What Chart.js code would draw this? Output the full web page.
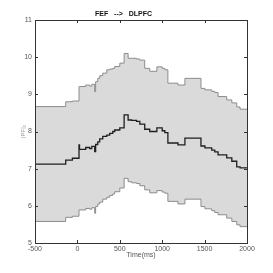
<!DOCTYPE html>
<html>
<head>
<meta charset="utf-8">
<script src="https://cdn.jsdelivr.net/npm/chart.js@4"></script>
<style>
  html, body { margin: 0; padding: 0; background: #fff; }
  #wrap { width: 273px; height: 273px; }
</style>
</head>
<body>
<div id="wrap"><canvas id="fefChart"></canvas></div>
<script>
// time axis (ms) where the stepped curves change value
const times = [-500, -138, -59, 19, 25, 98, 145, 170, 204, 215, 240, 263, 299, 346, 381, 417, 440, 500, 551, 598,
    640, 697, 736, 794, 853, 937, 1000, 1031, 1067, 1186, 1268, 1457, 1504, 1584, 1620, 1659, 1761, 1821, 1879, 1918, 2000];
const upperBound = [8.67, 8.80, 8.82, 9.21, 9.21, 9.25, 9.22, 9.27, 9.07, 9.34, 9.43, 9.50, 9.57, 9.66, 9.68, 9.70, 9.75, 9.84, 10.10, 9.97,
    9.97, 9.95, 9.92, 9.70, 9.62, 9.74, 9.70, 9.66, 9.30, 9.25, 9.43, 9.16, 9.12, 9.08, 9.05, 8.94, 8.85, 8.77, 8.66, 8.60, 8.60];
const meanNorm = [7.12, 7.23, 7.28, 7.64, 7.52, 7.57, 7.54, 7.60, 7.46, 7.65, 7.72, 7.80, 7.87, 7.90, 7.95, 8.00, 8.04, 8.10, 8.45, 8.31,
    8.30, 8.27, 8.20, 8.06, 8.00, 8.10, 8.02, 7.97, 7.69, 7.64, 7.82, 7.61, 7.56, 7.50, 7.45, 7.37, 7.29, 7.20, 7.05, 7.02, 7.02];
const lowerBound = [5.58, 5.69, 5.72, 5.89, 5.89, 5.93, 5.91, 5.95, 5.80, 5.98, 6.05, 6.10, 6.18, 6.23, 6.28, 6.32, 6.38, 6.48, 6.74, 6.65,
    6.62, 6.60, 6.54, 6.43, 6.35, 6.41, 6.37, 6.34, 6.12, 6.05, 6.18, 5.98, 5.92, 5.87, 5.82, 5.76, 5.67, 5.58, 5.49, 5.44, 5.44];
const xTicks = [-500, 0, 500, 1000, 1500, 2000];
const yTicks = [5, 6, 7, 8, 9, 10, 11];

const toPoints = vals => times.map((t, i) => ({ x: t, y: vals[i] }));
const tickFont = { family: "'Liberation Sans Narrow', 'Liberation Sans', Arial", size: 7 };

// matlab style box with inward ticks
const boxPlugin = {
    id: 'matBox',
    afterDatasetsDraw(chart) {
        const { ctx, chartArea: a, scales } = chart;
        ctx.save();
        ctx.strokeStyle = '#333';
        ctx.lineWidth = 1;
        ctx.strokeRect(a.left + 0.5, a.top + 0.5, a.right - a.left, a.bottom - a.top);
        ctx.beginPath();
        xTicks.forEach(v => {
            const px = Math.round(scales.x.getPixelForValue(v)) + 0.5;
            ctx.moveTo(px, a.bottom); ctx.lineTo(px, a.bottom - 3);
            ctx.moveTo(px, a.top); ctx.lineTo(px, a.top + 3);
        });
        yTicks.forEach(v => {
            const py = Math.round(scales.y.getPixelForValue(v)) + 0.5;
            ctx.moveTo(a.left, py); ctx.lineTo(a.left + 3, py);
            ctx.moveTo(a.right, py); ctx.lineTo(a.right - 3, py);
        });
        ctx.stroke();
        ctx.restore();
    }
};

new Chart(document.getElementById('fefChart'), {
    type: 'line',
    data: {
        datasets: [{
            label: 'upper',
            data: toPoints(upperBound),
            borderColor: '#8c8c8c',
            backgroundColor: '#dadada',
            borderWidth: 1,
            fill: '+1',
            stepped: 'before',
            pointRadius: 0
        }, {
            label: 'lower',
            data: toPoints(lowerBound),
            borderColor: '#8c8c8c',
            borderWidth: 1,
            fill: false,
            stepped: 'before',
            pointRadius: 0
        }, {
            label: 'mean',
            data: toPoints(meanNorm),
            borderColor: '#1e1e1e',
            borderWidth: 1.3,
            fill: false,
            stepped: 'before',
            pointRadius: 0
        }]
    },
    options: {
        responsive: true,
        maintainAspectRatio: false,
        animation: false,
        layout: { padding: { left: 0, right: 26, top: 0, bottom: 0 } },
        plugins: {
            legend: { display: false },
            tooltip: { enabled: false },
            filler: { drawTime: 'beforeDatasetsDraw' },
            title: {
                display: true,
                text: 'FEF   -->   DLPFC',
                color: '#111',
                font: { family: "'Liberation Sans Narrow', 'Liberation Sans', Arial", size: 7, weight: 'bold', lineHeight: 1 },
                padding: { top: 11, bottom: 2 }
            }
        },
        scales: {
            x: {
                type: 'linear',
                min: -500,
                max: 2000,
                afterFit: s => { s.height = 30; },
                afterBuildTicks: s => { s.ticks = xTicks.map(v => ({ value: v })); },
                grid: { display: false, drawTicks: false },
                border: { display: false },
                ticks: { color: '#555', font: tickFont, padding: 2, maxRotation: 0, autoSkip: false, callback: v => String(v) },
                title: { display: true, text: 'Time(ms)', color: '#555', font: tickFont, padding: { top: 0, bottom: 14 } }
            },
            y: {
                min: 5,
                max: 11,
                afterFit: s => { s.width = 35; },
                afterBuildTicks: s => { s.ticks = yTicks.map(v => ({ value: v })); },
                grid: { display: false, drawTicks: false },
                border: { display: false },
                ticks: { color: '#555', font: tickFont, padding: 3, autoSkip: false, callback: v => String(v) },
                title: { display: true, text: '|PF|₂', color: '#999', font: { family: tickFont.family, size: 6 }, padding: { top: 20, bottom: 0 } }
            }
        }
    },
    plugins: [boxPlugin]
});
</script>
</body>
</html>
